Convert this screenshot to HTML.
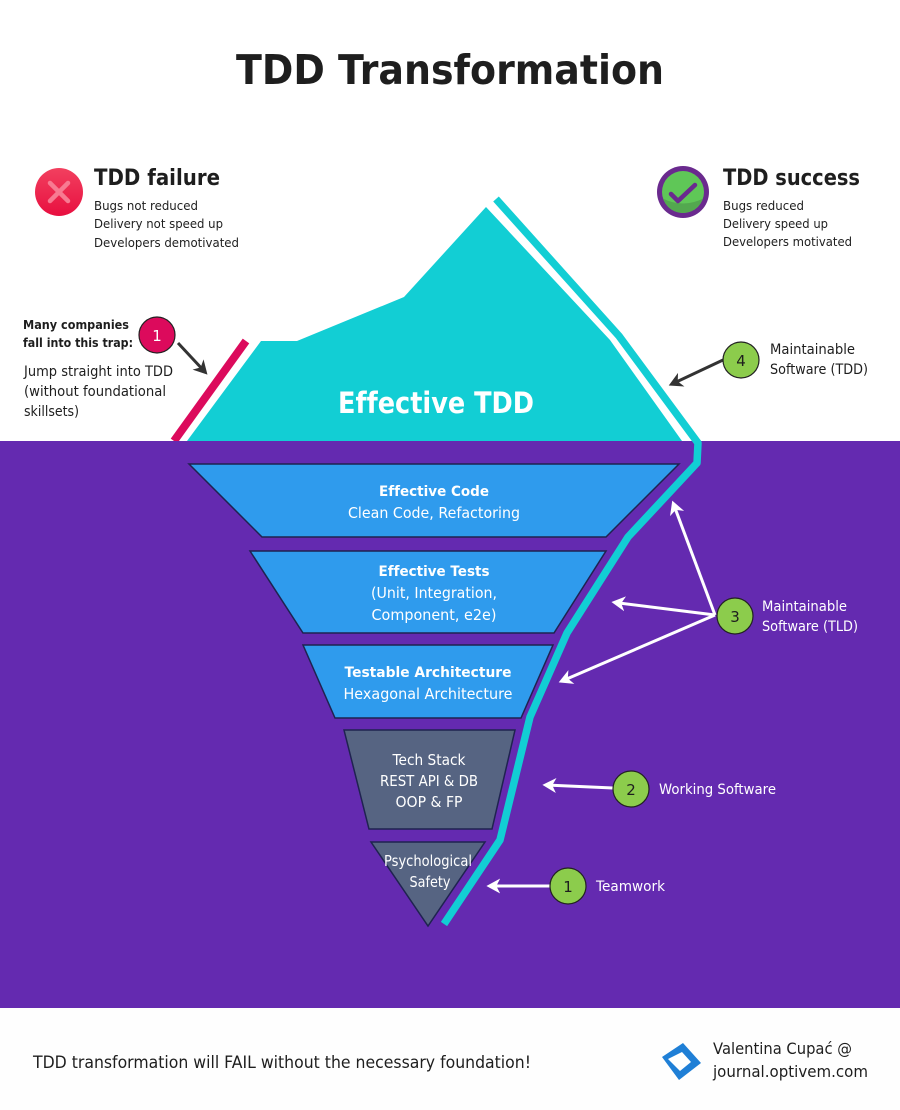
<!DOCTYPE html>
<html><head><meta charset="utf-8"><style>
html,body{margin:0;padding:0;background:#fff}
svg{display:block}
text{font-family:"DejaVu Sans","Liberation Sans",sans-serif;fill:#1e1e1e;font-variant-ligatures:none}
.w{fill:#fff}
.b{font-weight:bold}
</style></head><body>
<svg width="900" height="1110" viewBox="0 0 900 1110" xmlns="http://www.w3.org/2000/svg">
<defs>
<linearGradient id="red" x1="0" y1="0" x2="0" y2="1"><stop offset="0" stop-color="#f2405f"/><stop offset="1" stop-color="#e80f40"/></linearGradient>
<clipPath id="gc"><circle cx="683" cy="192" r="21"/></clipPath>
<marker id="aw" markerWidth="5" markerHeight="5.2" refX="3.4" refY="2.6" orient="auto" markerUnits="strokeWidth"><path d="M0 0.1L4.6 2.6L0 5.1L1.3 2.6Z" fill="#fff"/></marker>
<marker id="ad" markerWidth="5" markerHeight="5.2" refX="3.4" refY="2.6" orient="auto" markerUnits="strokeWidth"><path d="M0 0.1L4.6 2.6L0 5.1L1.3 2.6Z" fill="#333"/></marker>
</defs>
<rect width="900" height="1110" fill="#fff"/>
<rect x="0" y="441" width="900" height="567" fill="#642ab0"/>
<rect x="0" y="1008" width="900" height="102" fill="#fefefe"/>

<text x="450" y="84" text-anchor="middle" font-size="41" class="b" textLength="428" lengthAdjust="spacingAndGlyphs">TDD Transformation</text>

<!-- iceberg -->
<path d="M187 441L261 341L297 341L404 297L486 207L610 340L682 441Z" fill="#12ced4"/>
<path d="M496 199L619 336L698 443L697 463L628 537L567 633L530 717L500 840L444 924" fill="none" stroke="#12ced4" stroke-width="7.5" stroke-linejoin="round"/>
<path d="M174 441L246 341" fill="none" stroke="#dc0a5c" stroke-width="8"/>
<rect x="160" y="441" width="30" height="4" fill="#642ab0"/>
<text x="436" y="413" text-anchor="middle" font-size="29" class="b w" textLength="196" lengthAdjust="spacingAndGlyphs">Effective TDD</text>

<!-- layers -->
<path d="M189 464H679L606 537H262Z" fill="#2f9bed" stroke="#1f2350" stroke-width="1.5"/>
<path d="M250 551H606L554 633H303Z" fill="#2f9bed" stroke="#1f2350" stroke-width="1.5"/>
<path d="M303 645H553L521 718H335Z" fill="#2f9bed" stroke="#1f2350" stroke-width="1.5"/>
<path d="M344 730H515L492 829H369Z" fill="#566482" stroke="#1f2350" stroke-width="1.5"/>
<path d="M371 842H485L428 926Z" fill="#566482" stroke="#1f2350" stroke-width="1.5"/>

<text x="434" y="496" text-anchor="middle" font-size="14.5" class="b w" textLength="110" lengthAdjust="spacingAndGlyphs">Effective Code</text>
<text x="434" y="518" text-anchor="middle" font-size="15" class="w" textLength="172" lengthAdjust="spacingAndGlyphs">Clean Code, Refactoring</text>
<text x="434" y="576" text-anchor="middle" font-size="14.5" class="b w" textLength="111" lengthAdjust="spacingAndGlyphs">Effective Tests</text>
<text x="434" y="598" text-anchor="middle" font-size="15" class="w" textLength="126" lengthAdjust="spacingAndGlyphs">(Unit, Integration,</text>
<text x="434" y="620" text-anchor="middle" font-size="15" class="w" textLength="125" lengthAdjust="spacingAndGlyphs">Component, e2e)</text>
<text x="428" y="677" text-anchor="middle" font-size="14.5" class="b w" textLength="167" lengthAdjust="spacingAndGlyphs">Testable Architecture</text>
<text x="428" y="699" text-anchor="middle" font-size="15" class="w" textLength="169" lengthAdjust="spacingAndGlyphs">Hexagonal Architecture</text>
<text x="429" y="765" text-anchor="middle" font-size="15" class="w" textLength="73" lengthAdjust="spacingAndGlyphs">Tech Stack</text>
<text x="429" y="786" text-anchor="middle" font-size="15" class="w" textLength="98" lengthAdjust="spacingAndGlyphs">REST API &amp; DB</text>
<text x="429" y="807" text-anchor="middle" font-size="15" class="w" textLength="67" lengthAdjust="spacingAndGlyphs">OOP &amp; FP</text>
<text x="428" y="866" text-anchor="middle" font-size="15" class="w" textLength="88" lengthAdjust="spacingAndGlyphs">Psychological</text>
<text x="430" y="887" text-anchor="middle" font-size="15" class="w" textLength="41" lengthAdjust="spacingAndGlyphs">Safety</text>

<!-- status left -->
<circle cx="59" cy="192" r="24" fill="url(#red)"/>
<path d="M50 183L68 201M68 183L50 201" stroke="#f77a92" stroke-width="4.5" stroke-linecap="round"/>
<text x="94" y="185" font-size="22" class="b" textLength="126" lengthAdjust="spacingAndGlyphs">TDD failure</text>
<text x="94" y="210" font-size="12.5" textLength="104" lengthAdjust="spacingAndGlyphs">Bugs not reduced</text>
<text x="94" y="228" font-size="12.5" textLength="129" lengthAdjust="spacingAndGlyphs">Delivery not speed up</text>
<text x="94" y="247" font-size="12.5" textLength="145" lengthAdjust="spacingAndGlyphs">Developers demotivated</text>

<!-- status right -->
<circle cx="683" cy="192" r="26" fill="#6a2a8e"/>
<circle cx="683" cy="192" r="21" fill="#5fc757"/>
<g clip-path="url(#gc)"><path d="M660 197Q683 210 706 197V216H660Z" fill="#53a84f"/></g>
<path d="M671 194L678 201L695 185" fill="none" stroke="#6a2a8e" stroke-width="4.5" stroke-linecap="round" stroke-linejoin="round"/>
<text x="723" y="185" font-size="22" class="b" textLength="137" lengthAdjust="spacingAndGlyphs">TDD success</text>
<text x="723" y="210" font-size="12.5" textLength="81" lengthAdjust="spacingAndGlyphs">Bugs reduced</text>
<text x="723" y="228" font-size="12.5" textLength="105" lengthAdjust="spacingAndGlyphs">Delivery speed up</text>
<text x="723" y="246" font-size="12.5" textLength="129" lengthAdjust="spacingAndGlyphs">Developers motivated</text>

<!-- trap -->
<text x="23" y="329" font-size="12.5" class="b" textLength="106" lengthAdjust="spacingAndGlyphs">Many companies</text>
<text x="23" y="347" font-size="12.5" class="b" textLength="110" lengthAdjust="spacingAndGlyphs">fall into this trap:</text>
<text x="24" y="376" font-size="14" textLength="149" lengthAdjust="spacingAndGlyphs">Jump straight into TDD</text>
<text x="24" y="396" font-size="14" textLength="142" lengthAdjust="spacingAndGlyphs">(without foundational</text>
<text x="24" y="416" font-size="14" textLength="55" lengthAdjust="spacingAndGlyphs">skillsets)</text>
<circle cx="157" cy="335" r="18" fill="#dc0a5c" stroke="#222" stroke-width="1.2"/>
<text x="157" y="341" text-anchor="middle" font-size="15" class="w">1</text>
<path d="M178 343L205 372" stroke="#333" stroke-width="3" fill="none" marker-end="url(#ad)"/>

<!-- 4 -->
<path d="M723 360L672 384" stroke="#333" stroke-width="3" fill="none" marker-end="url(#ad)"/>
<circle cx="741" cy="360" r="18" fill="#8ccc4c" stroke="#222" stroke-width="1.2"/>
<text x="741" y="366" text-anchor="middle" font-size="15">4</text>
<text x="770" y="354" font-size="14" textLength="85" lengthAdjust="spacingAndGlyphs">Maintainable</text>
<text x="770" y="374" font-size="14" textLength="98" lengthAdjust="spacingAndGlyphs">Software (TDD)</text>

<!-- 3 -->
<g stroke="#fff" stroke-width="3" fill="none">
<path d="M715 615L673.500 504" marker-end="url(#aw)"/>
<path d="M715 615L615 602.500" marker-end="url(#aw)"/>
<path d="M715 615L562 681" marker-end="url(#aw)"/>
<path d="M613 788L546 785" marker-end="url(#aw)"/>
<path d="M550 886L490 886" marker-end="url(#aw)"/>
</g>
<circle cx="735" cy="616" r="18" fill="#8ccc4c" stroke="#222" stroke-width="1.2"/>
<text x="735" y="622" text-anchor="middle" font-size="15">3</text>
<text x="762" y="611" font-size="14" class="w" textLength="85" lengthAdjust="spacingAndGlyphs">Maintainable</text>
<text x="762" y="631" font-size="14" class="w" textLength="96" lengthAdjust="spacingAndGlyphs">Software (TLD)</text>

<circle cx="631" cy="789" r="18" fill="#8ccc4c" stroke="#222" stroke-width="1.2"/>
<text x="631" y="795" text-anchor="middle" font-size="15">2</text>
<text x="659" y="794" font-size="14" class="w" textLength="117" lengthAdjust="spacingAndGlyphs">Working Software</text>

<circle cx="568" cy="886" r="18" fill="#8ccc4c" stroke="#222" stroke-width="1.2"/>
<text x="568" y="892" text-anchor="middle" font-size="15">1</text>
<text x="596" y="891" font-size="14" class="w" textLength="69" lengthAdjust="spacingAndGlyphs">Teamwork</text>

<!-- footer -->
<text x="33" y="1068" font-size="17" textLength="498" lengthAdjust="spacingAndGlyphs">TDD transformation will FAIL without the necessary foundation!</text>
<path d="M683 1043L701 1063L679 1080L662 1057Z" fill="#1f7fd6"/>
<path d="M682 1052L691 1062L680 1071L668 1059Z" fill="#fff"/>
<text x="713" y="1054" font-size="16" textLength="139" lengthAdjust="spacingAndGlyphs">Valentina Cupać @</text>
<text x="713" y="1077" font-size="16" textLength="155" lengthAdjust="spacingAndGlyphs">journal.optivem.com</text>
</svg>
</body></html>
